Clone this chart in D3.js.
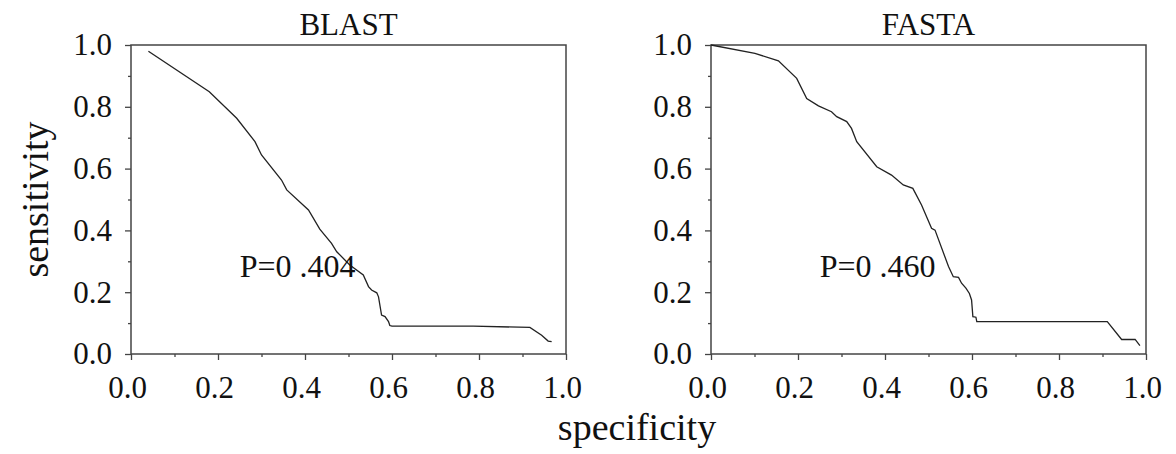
<!DOCTYPE html>
<html>
<head>
<meta charset="utf-8">
<script src="https://cdn.jsdelivr.net/npm/d3@7"></script>
<style>
  body { margin: 0; background: #fff; }
  svg text { font-family: "Liberation Serif", "Times New Roman", serif; fill: #111; }
</style>
</head>
<body>
<svg id="chart" width="1176" height="454"></svg>
<script>
// ROC-style curves, x = specificity, y = sensitivity
const blastPoints = [
  [0.04, 0.98], [0.18, 0.849], [0.243, 0.763], [0.285, 0.687], [0.30, 0.644],
  [0.346, 0.563], [0.358, 0.531], [0.408, 0.466], [0.434, 0.404], [0.461, 0.358],
  [0.473, 0.331], [0.503, 0.288], [0.534, 0.256], [0.546, 0.218], [0.553, 0.207],
  [0.565, 0.198], [0.569, 0.185], [0.576, 0.126], [0.584, 0.121], [0.592, 0.105],
  [0.595, 0.092], [0.60, 0.09], [0.787, 0.09], [0.917, 0.086], [0.944, 0.061],
  [0.959, 0.042], [0.967, 0.04]
];

const fastaPoints = [
  [0, 1.0], [0.101, 0.973], [0.155, 0.949], [0.197, 0.892], [0.22, 0.827],
  [0.247, 0.803], [0.277, 0.784], [0.289, 0.768], [0.312, 0.752], [0.323, 0.73],
  [0.335, 0.687], [0.381, 0.606], [0.415, 0.579], [0.442, 0.547], [0.464, 0.536],
  [0.484, 0.482], [0.507, 0.407], [0.515, 0.401], [0.546, 0.283], [0.557, 0.25],
  [0.569, 0.248], [0.576, 0.229], [0.586, 0.213], [0.594, 0.196], [0.599, 0.175],
  [0.602, 0.121], [0.609, 0.119], [0.611, 0.105], [0.911, 0.105], [0.944, 0.047],
  [0.975, 0.047], [0.986, 0.027]
];

const panelTitles = ["BLAST", "FASTA"];
const pLabels = ["P=0 .404", "P=0 .460"];
const pLabelPos = [0.25, 0.25]; // data coords of label's left baseline
const majorTicks = [0, 0.2, 0.4, 0.6, 0.8, 1.0];
const minorTicks = [0.1, 0.3, 0.5, 0.7, 0.9];

const svg = d3.select("#chart");

const panelLeft = [131, 711];
const plotW = 435;
const plotTop = 45, plotBottom = 354;

const y = d3.scaleLinear().domain([0, 1]).range([plotBottom, plotTop]);

const series = [blastPoints, fastaPoints];

series.forEach((pts, i) => {
  const x = d3.scaleLinear().domain([0, 1]).range([panelLeft[i], panelLeft[i] + plotW]);
  const g = svg.append("g");

  // frame
  g.append("rect")
    .attr("x", x(0)).attr("y", y(1))
    .attr("width", x(1) - x(0)).attr("height", y(0) - y(1))
    .attr("fill", "none").attr("stroke", "#444").attr("stroke-width", 1.5);

  // minor ticks
  g.append("g")
    .attr("transform", `translate(0,${plotBottom})`)
    .call(d3.axisBottom(x).tickValues(minorTicks).tickSize(3).tickFormat(""))
    .call((a) => a.select(".domain").remove());
  g.append("g")
    .attr("transform", `translate(${x(0)},0)`)
    .call(d3.axisLeft(y).tickValues(minorTicks).tickSize(3).tickFormat(""))
    .call((a) => a.select(".domain").remove());

  // major ticks + labels
  const xa = g.append("g")
    .attr("transform", `translate(0,${plotBottom})`)
    .call(d3.axisBottom(x).tickValues(majorTicks).tickSize(6).tickPadding(16).tickFormat(d3.format(".1f")));
  xa.select(".domain").remove();
  xa.selectAll("text").attr("font-size", 31).attr("dx", -4)
    .style("font-family", '"Liberation Serif", serif');

  const ya = g.append("g")
    .attr("transform", `translate(${x(0)},0)`)
    .call(d3.axisLeft(y).tickValues(majorTicks).tickSize(6).tickPadding(13).tickFormat(d3.format(".1f")));
  ya.select(".domain").remove();
  ya.selectAll("text").attr("font-size", 31)
    .style("font-family", '"Liberation Serif", serif');

  g.selectAll(".tick line").attr("stroke", "#444").attr("stroke-width", 1.3);

  // curve
  const line = d3.line().x((d) => x(d[0])).y((d) => y(d[1]));
  g.append("path")
    .datum(pts)
    .attr("d", line)
    .attr("fill", "none")
    .attr("stroke", "#222")
    .attr("stroke-width", 1.3);

  // title
  g.append("text")
    .attr("x", (x(0) + x(1)) / 2)
    .attr("y", 35)
    .attr("text-anchor", "middle")
    .attr("font-size", 31)
    .text(panelTitles[i]);

  // P annotation
  g.append("text")
    .attr("x", x(pLabelPos[0]))
    .attr("y", y(pLabelPos[1]))
    .attr("font-size", 32)
    .text(pLabels[i]);
});

// axis titles
svg.append("text")
  .attr("transform", `translate(48,${(plotTop + plotBottom) / 2}) rotate(-90)`)
  .attr("text-anchor", "middle")
  .attr("font-size", 38)
  .text("sensitivity");

svg.append("text")
  .attr("x", 637)
  .attr("y", 440)
  .attr("text-anchor", "middle")
  .attr("font-size", 38)
  .text("specificity");
</script>
</body>
</html>
